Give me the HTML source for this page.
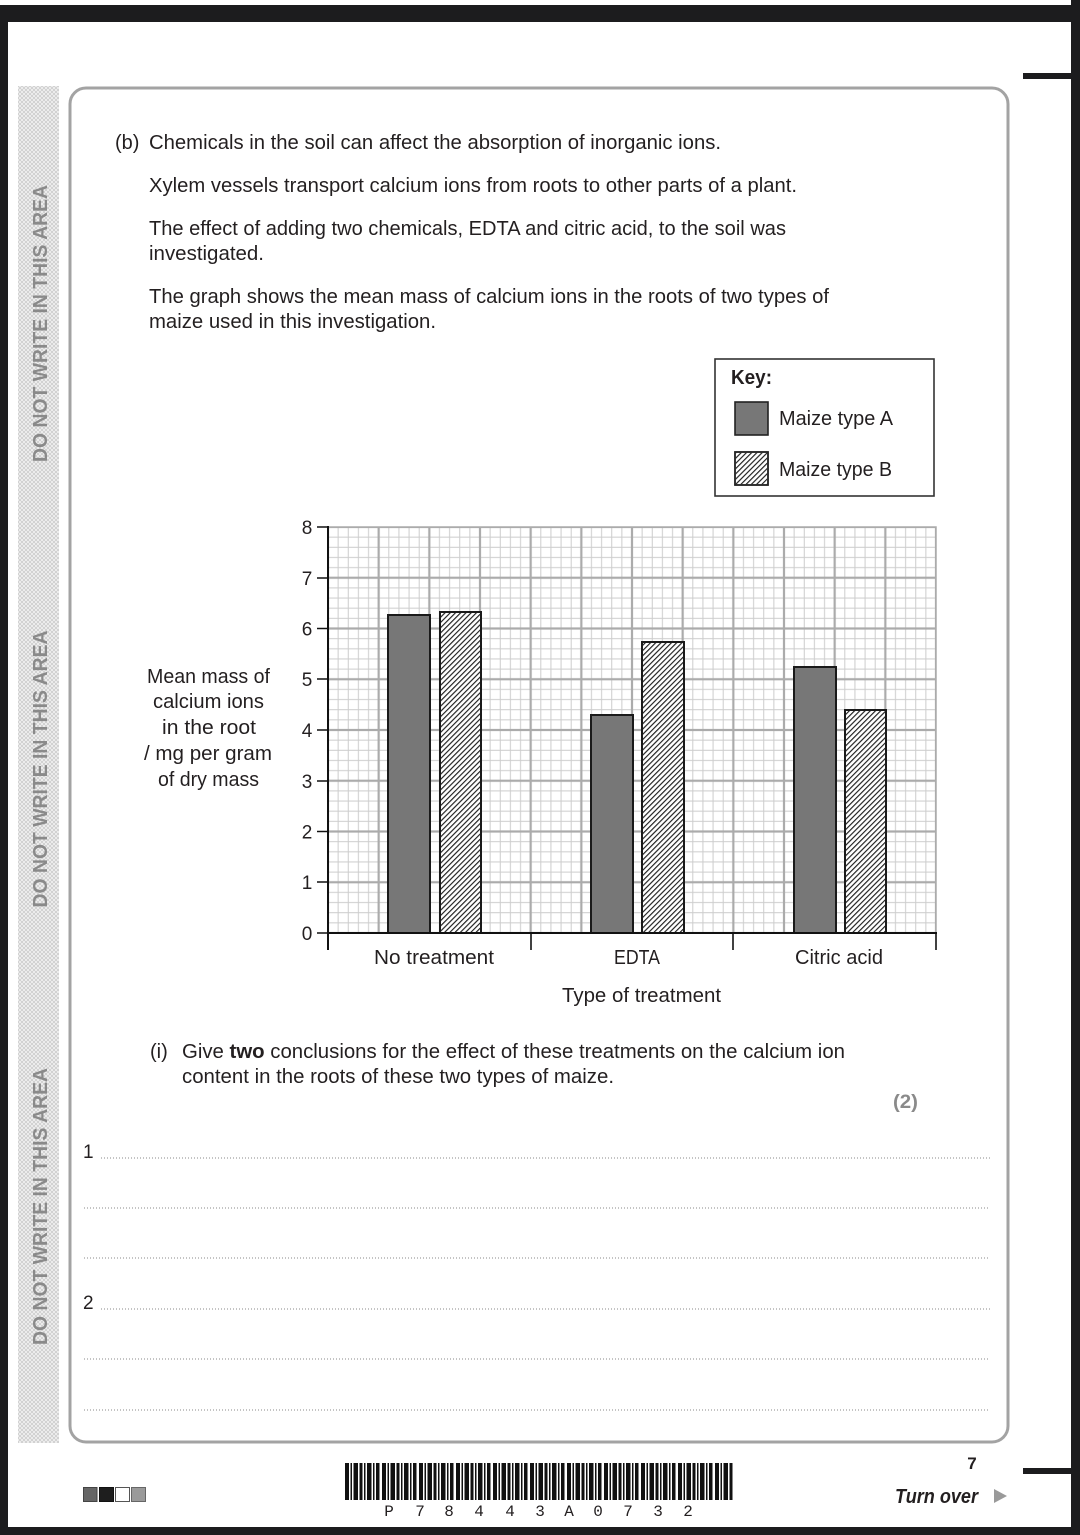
<!DOCTYPE html>
<html>
<head>
<meta charset="utf-8">
<style>
html,body{margin:0;padding:0;background:#fff;}
svg{display:block;}
text{font-family:"Liberation Sans",Arial,sans-serif;fill:#231f20;}
</style>
</head>
<body>
<svg xmlns="http://www.w3.org/2000/svg" width="1080" height="1535" viewBox="0 0 1080 1535">
<defs>
  <pattern id="grid" patternUnits="userSpaceOnUse" x="328" y="527" width="50.667" height="50.75">
    <rect x="0" y="0" width="50.667" height="50.75" fill="#fff"/>
    <rect x="9.633" y="0" width="1" height="50.75" fill="#cdcdcd"/>
    <rect x="19.767" y="0" width="1" height="50.75" fill="#cdcdcd"/>
    <rect x="29.9" y="0" width="1" height="50.75" fill="#cdcdcd"/>
    <rect x="40.033" y="0" width="1" height="50.75" fill="#cdcdcd"/>
    <rect x="0" y="9.65" width="50.667" height="1" fill="#cdcdcd"/>
    <rect x="0" y="19.8" width="50.667" height="1" fill="#cdcdcd"/>
    <rect x="0" y="29.95" width="50.667" height="1" fill="#cdcdcd"/>
    <rect x="0" y="40.1" width="50.667" height="1" fill="#cdcdcd"/>
    <rect x="0" y="0" width="1.1" height="50.75" fill="#ababab"/>
    <rect x="49.567" y="0" width="1.1" height="50.75" fill="#ababab"/>
    <rect x="0" y="0" width="50.667" height="1.1" fill="#ababab"/>
    <rect x="0" y="49.65" width="50.667" height="1.1" fill="#ababab"/>
  </pattern>
  <pattern id="hatch" patternUnits="userSpaceOnUse" width="3.7" height="3.7" patternTransform="rotate(45)">
    <rect x="0" y="0" width="1.15" height="3.7" fill="#1e1e1e"/>
  </pattern>
  <pattern id="xhatch" patternUnits="userSpaceOnUse" width="4" height="4">
    <path d="M0,0 L4,4 M4,0 L0,4" stroke="#cdcdcd" stroke-width="0.9" fill="none"/>
  </pattern>
  <pattern id="bc" patternUnits="userSpaceOnUse" x="345" y="1463" width="37" height="40">
    <rect x="0" y="0" width="4" height="40" fill="#111"/>
    <rect x="5.5" y="0" width="1.5" height="40" fill="#111"/>
    <rect x="8.5" y="0" width="4.5" height="40" fill="#111"/>
    <rect x="14.5" y="0" width="3" height="40" fill="#111"/>
    <rect x="19" y="0" width="1.5" height="40" fill="#111"/>
    <rect x="22" y="0" width="4.5" height="40" fill="#111"/>
    <rect x="28" y="0" width="1.5" height="40" fill="#111"/>
    <rect x="31" y="0" width="3.5" height="40" fill="#111"/>
  </pattern>
</defs>

<!-- page frame -->
<rect x="0" y="0" width="1080" height="1535" fill="#fff"/>
<rect x="0" y="5" width="1080" height="17" fill="#1c1c1e"/>
<rect x="0" y="5" width="8" height="1530" fill="#1c1c1e"/>
<rect x="1071" y="0" width="9" height="1535" fill="#1c1c1e"/>
<rect x="0" y="1527" width="1080" height="8" fill="#1c1c1e"/>
<rect x="1023" y="73" width="49" height="6" fill="#1c1c1e"/>
<rect x="1023" y="1468" width="49" height="6" fill="#1c1c1e"/>

<!-- left strip -->
<rect x="18" y="86" width="41" height="1357" fill="#f4f4f4"/>
<rect x="18" y="86" width="41" height="1357" fill="url(#xhatch)"/>
<text transform="translate(47,323.5) rotate(-90)" text-anchor="middle" font-size="20" font-weight="bold" style="fill:#8a8a8a" textLength="277" lengthAdjust="spacingAndGlyphs">DO NOT WRITE IN THIS AREA</text>
<text transform="translate(47,769) rotate(-90)" text-anchor="middle" font-size="20" font-weight="bold" style="fill:#8a8a8a" textLength="277" lengthAdjust="spacingAndGlyphs">DO NOT WRITE IN THIS AREA</text>
<text transform="translate(47,1206.5) rotate(-90)" text-anchor="middle" font-size="20" font-weight="bold" style="fill:#8a8a8a" textLength="277" lengthAdjust="spacingAndGlyphs">DO NOT WRITE IN THIS AREA</text>

<!-- main box -->
<rect x="70" y="88" width="938" height="1354" rx="16" ry="16" fill="#fff" stroke="#a3a3a3" stroke-width="3"/>

<!-- question text -->
<text x="115" y="149" font-size="20">(b)</text>
<text x="149" y="149" font-size="20" textLength="572" lengthAdjust="spacingAndGlyphs">Chemicals in the soil can affect the absorption of inorganic ions.</text>
<text x="149" y="192" font-size="20" textLength="648" lengthAdjust="spacingAndGlyphs">Xylem vessels transport calcium ions from roots to other parts of a plant.</text>
<text x="149" y="235" font-size="20" textLength="637" lengthAdjust="spacingAndGlyphs">The effect of adding two chemicals, EDTA and citric acid, to the soil was</text>
<text x="149" y="260" font-size="20" textLength="115" lengthAdjust="spacingAndGlyphs">investigated.</text>
<text x="149" y="303" font-size="20" textLength="680" lengthAdjust="spacingAndGlyphs">The graph shows the mean mass of calcium ions in the roots of two types of</text>
<text x="149" y="328" font-size="20" textLength="287" lengthAdjust="spacingAndGlyphs">maize used in this investigation.</text>

<!-- key -->
<rect x="715" y="359" width="219" height="137" fill="#fff" stroke="#333" stroke-width="1.6"/>
<text x="731" y="384" font-size="20" font-weight="bold" textLength="41" lengthAdjust="spacingAndGlyphs">Key:</text>
<rect x="735" y="402" width="33" height="33" fill="#777" stroke="#222" stroke-width="1.6"/>
<rect x="735" y="452" width="33" height="33" fill="#fff" stroke="#222" stroke-width="1.6"/>
<rect x="735.8" y="452.8" width="31.4" height="31.4" fill="url(#hatch)"/>
<rect x="735" y="452" width="33" height="33" fill="none" stroke="#222" stroke-width="1.6"/>
<text x="779" y="425" font-size="20" textLength="114" lengthAdjust="spacingAndGlyphs">Maize type A</text>
<text x="779" y="476" font-size="20" textLength="113" lengthAdjust="spacingAndGlyphs">Maize type B</text>

<!-- grid -->
<rect x="328" y="527" width="608" height="406" fill="url(#grid)"/>
<rect x="328" y="527" width="608" height="406" fill="none" stroke="#ababab" stroke-width="1.5"/>

<!-- bars -->
<rect x="388" y="615" width="42" height="318" fill="#777" stroke="#1a1a1a" stroke-width="2"/>
<rect x="440" y="612" width="41" height="321" fill="#fff"/>
<rect x="440" y="612" width="41" height="321" fill="url(#hatch)" stroke="#1a1a1a" stroke-width="2"/>

<rect x="591" y="715" width="42" height="218" fill="#777" stroke="#1a1a1a" stroke-width="2"/>
<rect x="642" y="642" width="42" height="291" fill="#fff"/>
<rect x="642" y="642" width="42" height="291" fill="url(#hatch)" stroke="#1a1a1a" stroke-width="2"/>

<rect x="794" y="667" width="42" height="266" fill="#777" stroke="#1a1a1a" stroke-width="2"/>
<rect x="845" y="710" width="41" height="223" fill="#fff"/>
<rect x="845" y="710" width="41" height="223" fill="url(#hatch)" stroke="#1a1a1a" stroke-width="2"/>

<!-- axes -->
<line x1="328" y1="526" x2="328" y2="950" stroke="#111" stroke-width="2"/>
<line x1="327" y1="933" x2="937" y2="933" stroke="#111" stroke-width="2"/>
<line x1="531" y1="933" x2="531" y2="950" stroke="#111" stroke-width="1.6"/>
<line x1="733" y1="933" x2="733" y2="950" stroke="#111" stroke-width="1.6"/>
<line x1="936" y1="933" x2="936" y2="950" stroke="#111" stroke-width="1.6"/>
<g stroke="#111" stroke-width="1.5">
  <line x1="317" y1="527" x2="328" y2="527"/>
  <line x1="317" y1="578" x2="328" y2="578"/>
  <line x1="317" y1="628.5" x2="328" y2="628.5"/>
  <line x1="317" y1="679" x2="328" y2="679"/>
  <line x1="317" y1="730" x2="328" y2="730"/>
  <line x1="317" y1="781" x2="328" y2="781"/>
  <line x1="317" y1="831.5" x2="328" y2="831.5"/>
  <line x1="317" y1="882" x2="328" y2="882"/>
  <line x1="317" y1="933" x2="328" y2="933"/>
</g>
<g font-size="19" text-anchor="middle">
  <text x="307" y="534">8</text>
  <text x="307" y="585">7</text>
  <text x="307" y="635.5">6</text>
  <text x="307" y="686">5</text>
  <text x="307" y="737">4</text>
  <text x="307" y="788">3</text>
  <text x="307" y="838.5">2</text>
  <text x="307" y="889">1</text>
  <text x="307" y="940">0</text>
</g>

<!-- y label -->
<g font-size="20" text-anchor="middle">
  <text x="208.5" y="683" textLength="123" lengthAdjust="spacingAndGlyphs">Mean mass of</text>
  <text x="208.5" y="708" textLength="111" lengthAdjust="spacingAndGlyphs">calcium ions</text>
  <text x="209" y="734" textLength="94" lengthAdjust="spacingAndGlyphs">in the root</text>
  <text x="208" y="760" textLength="128" lengthAdjust="spacingAndGlyphs">/ mg per gram</text>
  <text x="208.5" y="786" textLength="101" lengthAdjust="spacingAndGlyphs">of dry mass</text>
</g>

<!-- x labels -->
<g font-size="20" text-anchor="middle">
  <text x="434" y="964" textLength="120" lengthAdjust="spacingAndGlyphs">No treatment</text>
  <text x="637" y="964" textLength="46" lengthAdjust="spacingAndGlyphs">EDTA</text>
  <text x="839" y="964" textLength="88" lengthAdjust="spacingAndGlyphs">Citric acid</text>
  <text x="641.5" y="1002" textLength="159" lengthAdjust="spacingAndGlyphs">Type of treatment</text>
</g>

<!-- part (i) -->
<text x="150" y="1058" font-size="20">(i)</text>
<text x="182" y="1058" font-size="20" textLength="663" lengthAdjust="spacingAndGlyphs">Give <tspan font-weight="bold">two</tspan> conclusions for the effect of these treatments on the calcium ion</text>
<text x="182" y="1083" font-size="20" textLength="432" lengthAdjust="spacingAndGlyphs">content in the roots of these two types of maize.</text>
<text x="893" y="1108" font-size="19" font-weight="bold" style="fill:#8a8a8a" textLength="25" lengthAdjust="spacingAndGlyphs">(2)</text>

<!-- answer lines -->
<text x="83" y="1158" font-size="19">1</text>
<text x="83" y="1309" font-size="19">2</text>
<g stroke="#8a8a8a" stroke-width="1" stroke-dasharray="1 2">
  <line x1="101" y1="1158" x2="990" y2="1158"/>
  <line x1="84" y1="1208" x2="990" y2="1208"/>
  <line x1="84" y1="1258" x2="990" y2="1258"/>
  <line x1="101" y1="1309" x2="990" y2="1309"/>
  <line x1="84" y1="1359" x2="990" y2="1359"/>
  <line x1="84" y1="1410" x2="990" y2="1410"/>
</g>

<!-- footer -->
<rect x="83.5" y="1487.5" width="13.5" height="14" fill="#666" stroke="#444" stroke-width="1"/>
<rect x="99.5" y="1487.5" width="14" height="14" fill="#1e1e1e" stroke="#111" stroke-width="1"/>
<rect x="115.5" y="1487.5" width="14" height="14" fill="#fff" stroke="#555" stroke-width="1"/>
<rect x="131.5" y="1487.5" width="14" height="14" fill="#9a9a9a" stroke="#666" stroke-width="1"/>

<rect x="345" y="1463" width="388" height="37" fill="url(#bc)"/>
<g font-size="16" text-anchor="middle">
  <text x="389" y="1516" style="font-family:'Liberation Mono',monospace">P</text>
  <text x="420" y="1516" style="font-family:'Liberation Mono',monospace">7</text>
  <text x="449" y="1516" style="font-family:'Liberation Mono',monospace">8</text>
  <text x="479" y="1516" style="font-family:'Liberation Mono',monospace">4</text>
  <text x="510" y="1516" style="font-family:'Liberation Mono',monospace">4</text>
  <text x="540" y="1516" style="font-family:'Liberation Mono',monospace">3</text>
  <text x="569" y="1516" style="font-family:'Liberation Mono',monospace">A</text>
  <text x="598" y="1516" style="font-family:'Liberation Mono',monospace">0</text>
  <text x="628" y="1516" style="font-family:'Liberation Mono',monospace">7</text>
  <text x="658" y="1516" style="font-family:'Liberation Mono',monospace">3</text>
  <text x="688" y="1516" style="font-family:'Liberation Mono',monospace">2</text>
</g>

<text x="972" y="1469" font-size="17" font-weight="bold" text-anchor="middle">7</text>
<text x="895" y="1503" font-size="20" font-weight="bold" font-style="italic" textLength="83" lengthAdjust="spacingAndGlyphs">Turn over</text>
<polygon points="994,1489 1007,1496 994,1503" fill="#9a9a9a"/>
</svg>
</body>
</html>
